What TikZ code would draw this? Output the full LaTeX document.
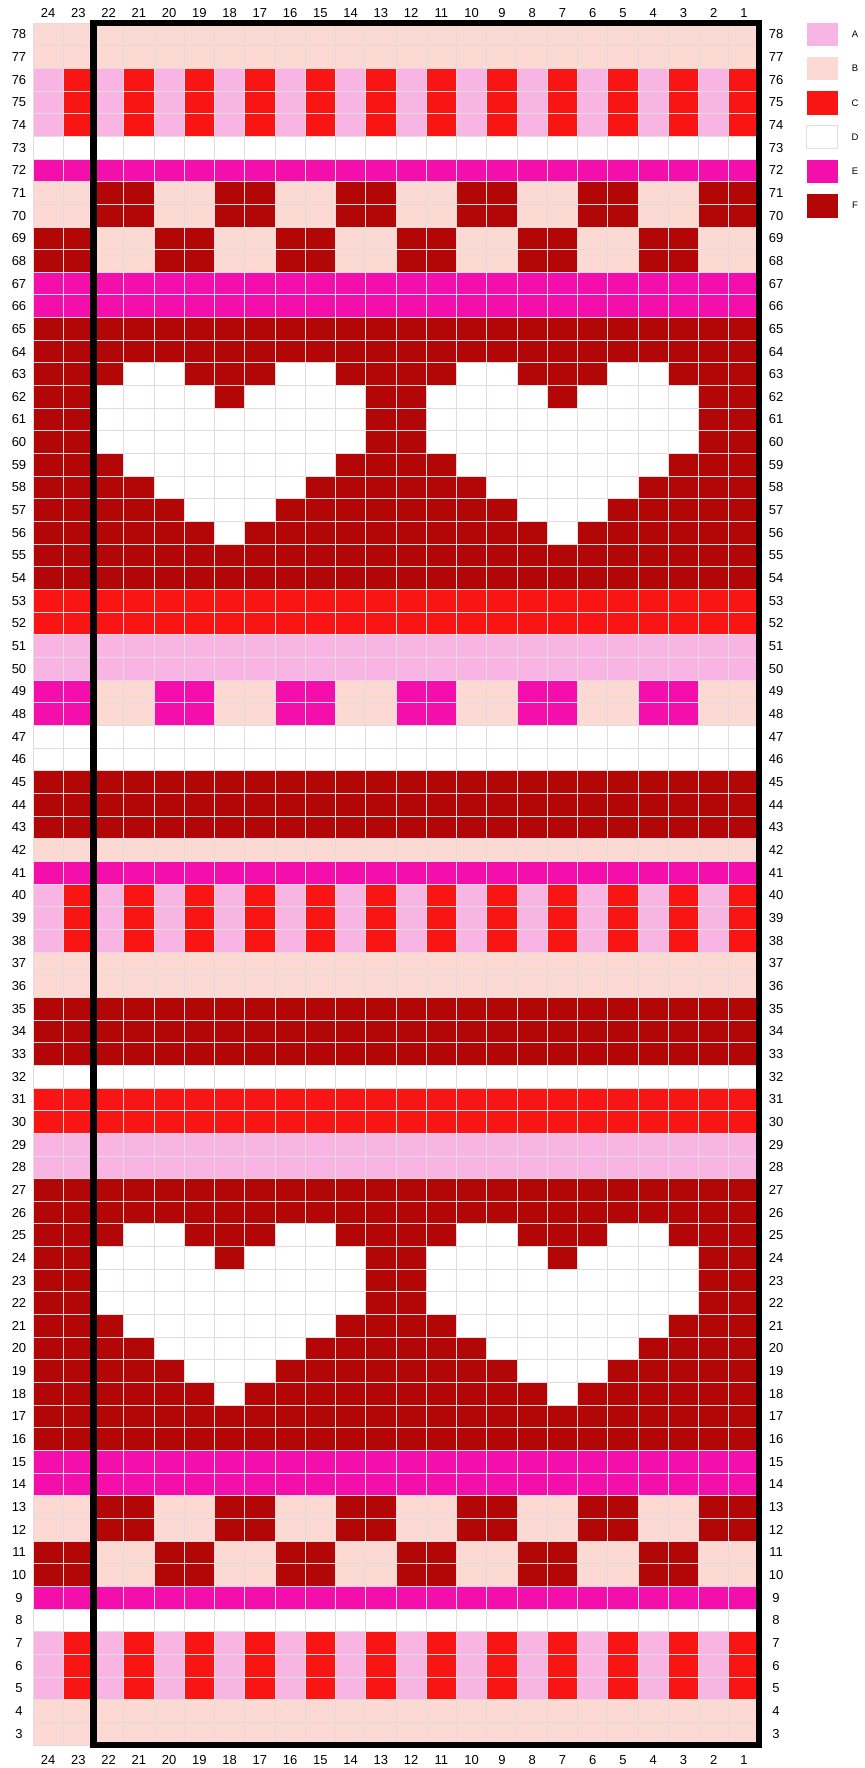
\documentclass[tikz,border=0pt]{standalone}
\usepackage{fontspec}
\setmainfont{Liberation Sans}
\definecolor{cA}{HTML}{F8B4E2}
\definecolor{cB}{HTML}{FCDAD3}
\definecolor{cC}{HTML}{FA1515}
\definecolor{cD}{HTML}{FFFFFF}
\definecolor{cE}{HTML}{F40EAC}
\definecolor{cF}{HTML}{B30606}
\definecolor{gridc}{HTML}{E4DCDC}
\newcommand\band[3]{\fill[#3] (0,{78-(#1)}) rectangle (24,{79-(#2)});}
\newcommand\blk[5]{\fill[#5] ({24-(#1)},{78-(#3)}) rectangle ({25-(#2)},{79-(#4)});}
\newcommand\heart[2]{%
\blk{#1+3}{#1+2}{#2}{#2}{cD}
\blk{#1-2}{#1-3}{#2}{#2}{cD}
\blk{#1+4}{#1+1}{#2-1}{#2-1}{cD}
\blk{#1-1}{#1-4}{#2-1}{#2-1}{cD}
\blk{#1+4}{#1-4}{#2-2}{#2-3}{cD}
\blk{#1+3}{#1-3}{#2-4}{#2-4}{cD}
\blk{#1+2}{#1-2}{#2-5}{#2-5}{cD}
\blk{#1+1}{#1-1}{#2-6}{#2-6}{cD}
\blk{#1}{#1}{#2-7}{#2-7}{cD}}
\newcommand\stripeAC[2]{\band{#1}{#2}{cA}\foreach \c in {1,3,...,23} {\blk{\c}{\c}{#1}{#2}{cC}}}
\newcommand\pairs[3]{\foreach \c in {22,18,...,2} {\blk{\c}{\c-1}{#1}{#2}{#3}}}
\begin{document}
\begin{tikzpicture}[x=1pt,y=-1pt,
  lbl/.style={font=\fontsize{13}{15}\selectfont, inner sep=0pt},
  leg/.style={font=\fontsize{9.5}{11}\selectfont, inner sep=0pt},
  sw/.style={minimum width=30pt, minimum height=22.5pt, inner sep=0pt, line width=0.8pt}]
\fill[white] (0,0) rectangle (864,1768);
\path[use as bounding box] (0,0) rectangle (864,1768);
\begin{scope}[xshift=33pt, yshift=-23pt, x=30.25pt, y=-22.658pt]
\band{78}{77}{cB}
\stripeAC{76}{74}
\band{73}{73}{cD}
\band{72}{72}{cE}
\band{71}{70}{cB}\pairs{71}{70}{cF}
\band{69}{68}{cF}\pairs{69}{68}{cB}
\band{67}{66}{cE}
\band{65}{54}{cF}\heart{18}{63}\heart{7}{63}
\band{53}{52}{cC}
\band{51}{50}{cA}
\band{49}{48}{cE}\pairs{49}{48}{cB}
\band{47}{46}{cD}
\band{45}{43}{cF}
\band{42}{42}{cB}
\band{41}{41}{cE}
\stripeAC{40}{38}
\band{37}{36}{cB}
\band{35}{33}{cF}
\band{32}{32}{cD}
\band{31}{30}{cC}
\band{29}{28}{cA}
\band{27}{16}{cF}\heart{18}{25}\heart{7}{25}
\band{15}{14}{cE}
\band{13}{12}{cB}\pairs{13}{12}{cF}
\band{11}{10}{cF}\pairs{11}{10}{cB}
\band{9}{9}{cE}
\band{8}{8}{cD}
\stripeAC{7}{5}
\band{4}{3}{cB}
\foreach \i in {0,...,24} {\draw[gridc, line width=0.8pt] (\i,0) -- (\i,76);}
\foreach \j in {0,...,76} {\draw[gridc, line width=0.8pt] (0,\j) -- (24,\j);}
\draw[line width=6.5pt] (2,0) rectangle (24,76);
\end{scope}
\foreach \c in {1,...,24} {
  \node[lbl] (ct\c) at ({33+(24.5-\c)*30.25},13) {\c};
  \node[lbl] (cb\c) at ({33+(24.5-\c)*30.25},1760) {\c};
}
\foreach \r in {3,...,78} {
  \node[lbl] (rl\r) at (19,{23+(78.5-\r)*22.658}) {\r};
  \node[lbl] (rr\r) at (776,{23+(78.5-\r)*22.658}) {\r};
}
\foreach \L/\C [count=\k from 0] in {A/cA,B/cB,C/cC,D/cD,E/cE,F/cF} {
  \node[sw, fill=\C, draw=\C] (sw\L) at (822,{34.2+\k*34.3}) {};
  \node[leg] (lg\L) at (855,{34.2+\k*34.3}) {\L};
}
\draw[gray!25, line width=0.8pt] (swD.south west) rectangle (swD.north east);
\end{tikzpicture}
\end{document}
